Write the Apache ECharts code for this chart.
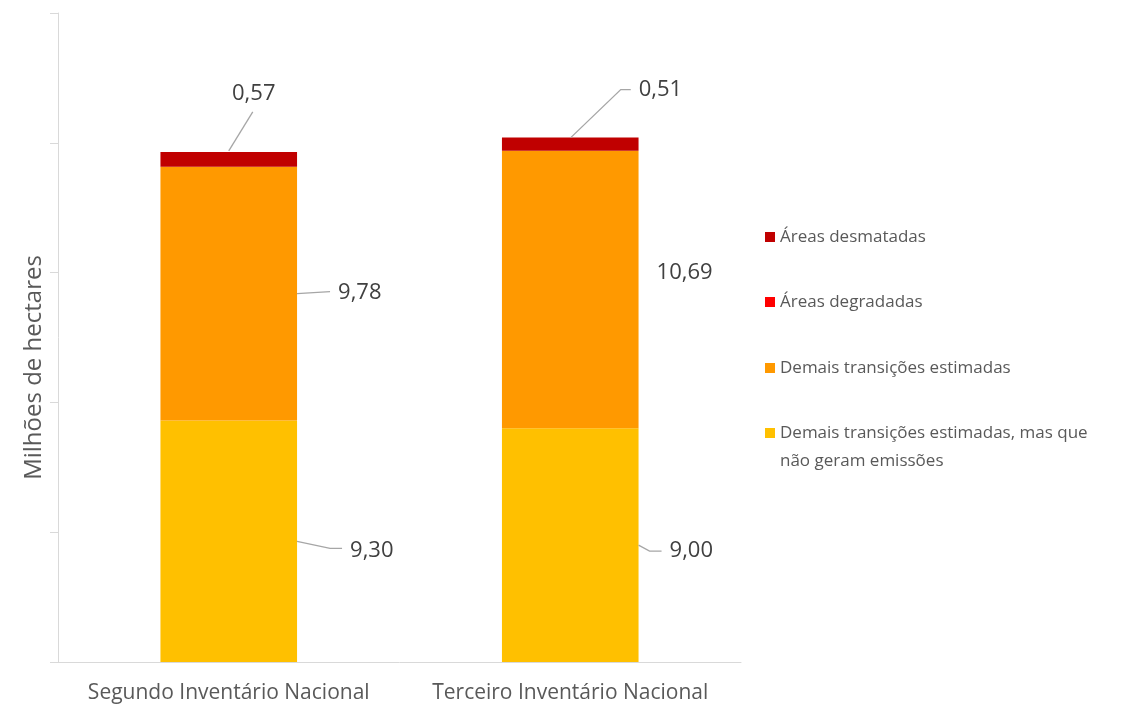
<!DOCTYPE html>
<html>
<head>
<meta charset="utf-8">
<script src="https://cdn.jsdelivr.net/npm/echarts@6/dist/echarts.min.js"></script>
<style>
  html, body { margin: 0; padding: 0; background: #ffffff; }
  #chart { width: 1122px; height: 706px; }
</style>
</head>
<body>
<div id="chart"></div>
<script>
// Categories and values (milhões de hectares)
const categories = ['Segundo Inventário Nacional', 'Terceiro Inventário Nacional'];
const seriesNames = [
  'Áreas desmatadas',
  'Áreas degradadas',
  'Demais transições estimadas',
  'Demais transições estimadas, mas que não geram emissões'
];
const naoGeramEmissoes = [9.30, 9.00];
const demaisTransicoes = [9.78, 10.69];
const areasDegradadas = [0, 0];
const areasDesmatadas = [0.57, 0.51];
const yAxisMin = 0;
const yAxisMax = 25;
const yAxisStep = 5;

const colors = {
  desmatadas: '#C00000',
  degradadas: '#FF0000',
  demais: '#FF9900',
  naoEmissoras: '#FFC000'
};

const FONT = '"Open Sans", "DejaVu Sans", sans-serif';
const LEADER = '#a6a6a6';

// Label placement relative to each segment (right edge middle, or top centre)
const labelPlacement = {
  naoEmissoras: [
    { anchor: 'right', label: [53, 9.5], line: [[0, 0], [33, 7], [45, 7]] },
    { anchor: 'right', label: [31, 6], line: [[0, 0], [11, 6], [23, 6]] }
  ],
  demais: [
    { anchor: 'right', label: [41, -1], line: [[0, 0], [33, -2]] },
    { anchor: 'right', label: [18, -16.5], line: null }
  ],
  desmatadas: [
    { anchor: 'top', label: [25, -58], align: 'center', line: [[0, -1], [24, -40]] },
    { anchor: 'top', label: [68.5, -48], line: [[0.5, 0], [50.5, -48], [60.5, -48]] }
  ]
};

const anchorStore = { naoEmissoras: [], demais: [], desmatadas: [] };

function anchorOf(kind, r) {
  if (kind === 'top') return [r.x + r.width / 2, r.y];
  return [r.x + r.width, r.y + r.height / 2];
}

function placeLabel(key) {
  return function (params) {
    const cfg = labelPlacement[key][params.dataIndex];
    if (!cfg) return {};
    const a = anchorOf(cfg.anchor, params.rect);
    anchorStore[key][params.dataIndex] = a;
    return {
      x: a[0] + cfg.label[0],
      y: a[1] + cfg.label[1],
      align: cfg.align || 'left',
      verticalAlign: 'middle'
    };
  };
}

function fmt(v) {
  return Number(v).toFixed(2).replace('.', ',');
}

const valueLabel = {
  show: true,
  formatter: p => fmt(p.value),
  color: '#404040',
  fontFamily: FONT,
  fontSize: 22
};

function barSeries(name, data, color, key) {
  const s = {
    name: name,
    type: 'bar',
    stack: 'total',
    data: data,
    barCategoryGap: '60%',
    itemStyle: { color: color },
    label: key ? valueLabel : { show: false },
    emphasis: { disabled: true }
  };
  if (key) s.labelLayout = placeLabel(key);
  return s;
}

const legendText = { fontFamily: FONT, fontSize: 17, color: '#595959', lineHeight: 22 };

function legendAt(name, color, top, extra) {
  return Object.assign({
    show: true,
    orient: 'vertical',
    left: 765,
    top: top,
    padding: 0,
    itemWidth: 10,
    itemHeight: 10,
    icon: 'rect',
    selectedMode: false,
    data: [{ name: name, itemStyle: { color: color } }],
    textStyle: legendText
  }, extra || {});
}

const chart = echarts.init(document.getElementById('chart'), null, { renderer: 'canvas' });

const option = {
  animation: false,
  backgroundColor: '#ffffff',
  grid: { left: 58, right: 381, top: 13, bottom: 44, containLabel: false, outerBoundsMode: 'none' },
  xAxis: {
    type: 'category',
    data: categories,
    axisLine: { show: true, lineStyle: { color: '#d9d9d9', width: 1 } },
    axisTick: { show: false },
    axisLabel: { interval: 0, hideOverlap: false, color: '#595959', fontFamily: FONT, fontSize: 21, margin: 21 }
  },
  yAxis: {
    type: 'value',
    min: yAxisMin,
    max: yAxisMax,
    interval: yAxisStep,
    name: 'Milhões de hectares',
    nameLocation: 'middle',
    nameGap: 12,
    nameTextStyle: { color: '#595959', fontFamily: FONT, fontSize: 24, padding: [0, 60, 0, 0] },
    axisLine: { show: true, lineStyle: { color: '#d9d9d9', width: 1 } },
    axisTick: { show: true, length: 8, lineStyle: { color: '#d9d9d9' } },
    axisLabel: { show: false },
    splitLine: { show: false }
  },
  legend: [
    legendAt(seriesNames[0], colors.desmatadas, 226),
    legendAt(seriesNames[1], colors.degradadas, 291),
    legendAt(seriesNames[2], colors.demais, 357),
    // leading blank line keeps the icon beside the first line of the wrapped name
    legendAt(seriesNames[3], colors.naoEmissoras, 391, {
      formatter: n => '\n' + n.replace('mas que ', 'mas que\n'),
      textStyle: Object.assign({}, legendText, { lineHeight: 28 })
    })
  ],
  series: [
    barSeries(seriesNames[3], naoGeramEmissoes, colors.naoEmissoras, 'naoEmissoras'),
    barSeries(seriesNames[2], demaisTransicoes, colors.demais, 'demais'),
    barSeries(seriesNames[1], areasDegradadas, colors.degradadas, null),
    barSeries(seriesNames[0], areasDesmatadas, colors.desmatadas, 'desmatadas')
  ]
};

chart.setOption(option);

// Leader lines from each segment to its value label
function leaderLines() {
  const out = [];
  Object.keys(labelPlacement).forEach(key => {
    labelPlacement[key].forEach((cfg, i) => {
      const a = anchorStore[key][i];
      if (!cfg.line || !a) return;
      out.push({
        type: 'polyline',
        silent: true,
        z: 10,
        shape: { points: cfg.line.map(p => [a[0] + p[0], a[1] + p[1]]) },
        style: { stroke: LEADER, lineWidth: 1.3, fill: null }
      });
    });
  });
  return out;
}

chart.setOption({ graphic: leaderLines() });
</script>
</body>
</html>
